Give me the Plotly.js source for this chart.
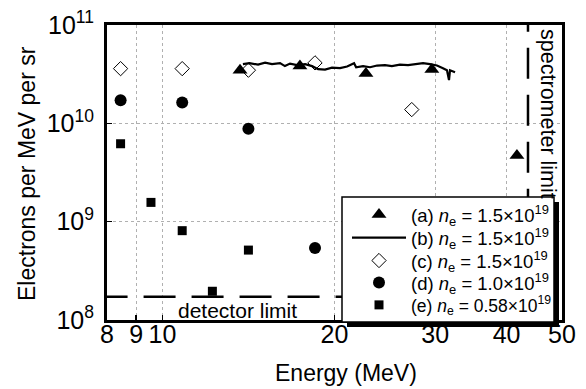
<!DOCTYPE html>
<html>
<head>
<meta charset="utf-8">
<script src="https://cdn.plot.ly/plotly-3.0.1.min.js"></script>
<style>html,body{margin:0;padding:0;background:#fff;}#chart{width:586px;height:389px;}</style>
</head>
<body>
<div id="chart"></div>
<script>
// ---- data ----
const energyA = [13.67, 17.4, 22.7, 29.6, 41.7];
const valuesA = [3.47e10, 3.82e10, 3.21e10, 3.53e10, 4.71e9];

const energyB = [13.83, 14.2, 14.7, 15.12, 15.55, 16.06, 16.38, 16.72, 17.2, 17.77, 18.27, 18.72, 19.25, 19.8, 20.45, 21.04, 21.64, 21.82, 22.44, 23.08, 23.74, 24.51, 25.2, 26.03, 26.9, 27.66, 28.57, 29.38, 30.22, 30.96, 31.46, 31.72, 31.85, 32.5];
const valuesB = [4.0e10, 4.09e10, 3.95e10, 4.14e10, 4.0e10, 4.09e10, 3.82e10, 4.05e10, 3.91e10, 4.0e10, 3.82e10, 3.56e10, 3.52e10, 3.68e10, 3.64e10, 3.78e10, 4.09e10, 3.72e10, 3.82e10, 3.72e10, 3.87e10, 3.91e10, 3.82e10, 3.95e10, 3.91e10, 4.0e10, 4.09e10, 4.0e10, 3.87e10, 3.64e10, 3.47e10, 2.75e10, 3.47e10, 3.31e10];

const energyC = [8.45, 10.83, 14.14, 18.49, 27.3];
const valuesC = [3.6e10, 3.6e10, 3.47e10, 4.12e10, 1.38e10];

const energyD = [8.45, 10.83, 14.14, 18.49];
const valuesD = [1.72e10, 1.63e10, 8.8e9, 5.4e8];

const energyE = [8.45, 9.55, 10.83, 12.23, 14.14];
const valuesE = [6.2e9, 1.57e9, 8.1e8, 1.96e8, 5.14e8];

const seriesNames = [
  '(a) <i>n</i><sub>e</sub> = 1.5\u00d710<sup>19</sup>',
  '(b) <i>n</i><sub>e</sub> = 1.5\u00d710<sup>19</sup>',
  '(c) <i>n</i><sub>e</sub> = 1.5\u00d710<sup>19</sup>',
  '(d) <i>n</i><sub>e</sub> = 1.0\u00d710<sup>19</sup>',
  '(e) <i>n</i><sub>e</sub> = 0.58\u00d710<sup>19</sup>'
];

const detectorLimit = 1.72e8;      // electrons per MeV per sr
const spectrometerLimit = 43.6;    // MeV

const xTickVals = [8, 9, 10, 20, 30, 40, 50];
const xTickText = ['8', '9', '10', '20', '30', '40', '50'];
const yTickVals = [1e8, 1e9, 1e10, 1e11];
const yTickText = ['10<sup>8</sup>', '10<sup>9</sup>', '10<sup>10</sup>', '10<sup>11</sup>'];

// ---- plot ----
const FONT = 'Liberation Sans, Arial, Helvetica, sans-serif';
const W = 586, H = 389;
const PL = 107, PR = 562, PT = 25, PB = 320;           // plot area in pixels
const px2paperX = p => (p - PL) / (PR - PL);
const px2paperY = p => (PB - p) / (PB - PT);

const traces = [
  {x: energyA, y: valuesA, name: seriesNames[0], mode: 'markers', type: 'scatter', legend: 'legend',
   marker: {symbol: 'triangle-up', size: 13, color: '#000'}},
  {x: energyB, y: valuesB, name: seriesNames[1], mode: 'lines', type: 'scatter', legend: 'legend2',
   line: {color: '#000', width: 2.2}},
  {x: energyC, y: valuesC, name: seriesNames[2], mode: 'markers', type: 'scatter', legend: 'legend3',
   marker: {symbol: 'diamond-open', size: 11, color: '#000', line: {width: 1}}},
  {x: energyD, y: valuesD, name: seriesNames[3], mode: 'markers', type: 'scatter', legend: 'legend4',
   marker: {symbol: 'circle', size: 12, color: '#000'}},
  {x: energyE, y: valuesE, name: seriesNames[4], mode: 'markers', type: 'scatter', legend: 'legend5',
   marker: {symbol: 'square', size: 9, color: '#000'}}
];

const axisCommon = {
  type: 'log', showline: true, linecolor: '#000', linewidth: 3, mirror: true,
  ticks: 'inside', ticklen: 5, tickwidth: 1.5, tickcolor: '#000',
  showgrid: true, gridcolor: '#b0b0b0', gridwidth: 1, griddash: 'dot',
  zeroline: false, tickfont: {family: FONT, size: 25, color: '#000'}
};

const rowY = [215, 238, 261, 283, 305];
function legendAt(py, fs) {
  return {
    x: px2paperX(347), y: px2paperY(py), xanchor: 'left', yanchor: 'middle',
    bgcolor: 'rgba(0,0,0,0)', borderwidth: 0,
    font: {family: FONT, size: fs, color: '#000'},
    itemwidth: 54, tracegroupgap: 0
  };
}

const layout = {
  width: W, height: H,
  margin: {l: PL, r: W - PR, t: PT, b: H - PB},
  paper_bgcolor: '#fff', plot_bgcolor: '#fff',
  font: {family: FONT, color: '#000'},
  showlegend: true,
  xaxis: Object.assign({}, axisCommon, {
    range: [Math.log10(8), Math.log10(50)],
    tickmode: 'array', tickvals: xTickVals, ticktext: xTickText,
    ticklabelstandoff: -10
  }),
  yaxis: Object.assign({}, axisCommon, {
    range: [8, 11],
    tickmode: 'array', tickvals: yTickVals, ticktext: yTickText,
    ticklabelstandoff: 5
  }),
  legend: legendAt(rowY[0], 18.5),
  legend2: legendAt(rowY[1], 18.5),
  legend3: legendAt(rowY[2], 18.5),
  legend4: legendAt(rowY[3], 18.5),
  legend5: legendAt(rowY[4], 17.5),
  shapes: [
    // detector limit (horizontal dashed)
    {type: 'line', xref: 'x', yref: 'y', x0: 7.64, x1: 30, y0: detectorLimit, y1: detectorLimit,
     line: {color: '#000', width: 2.5, dash: '32px,16px'}, layer: 'above'},
    // spectrometer limit (vertical dashed)
    {type: 'line', xref: 'x', yref: 'y', x0: spectrometerLimit, x1: spectrometerLimit, y0: 1.76e11, y1: 1e8,
     line: {color: '#000', width: 2.5, dash: '31px,16px'}, layer: 'above'},
    // legend shadow
    {type: 'rect', xref: 'paper', yref: 'paper',
     x0: px2paperX(347), x1: px2paperX(559), y0: px2paperY(327), y1: px2paperY(202),
     fillcolor: '#000', line: {width: 0}, layer: 'above'},
    // legend box
    {type: 'rect', xref: 'paper', yref: 'paper',
     x0: px2paperX(342), x1: px2paperX(554), y0: px2paperY(322), y1: px2paperY(197),
     fillcolor: '#fff', line: {color: '#000', width: 1.5}, layer: 'above'}
  ],
  annotations: [
    {text: 'detector limit', xref: 'x', yref: 'y', x: Math.log10(13.54), y: Math.log10(1.24e8),
     xanchor: 'center', yanchor: 'middle',
     showarrow: false, font: {family: FONT, size: 21, color: '#000'}},
    {text: 'spectrometer limit', xref: 'x', yref: 'y', x: Math.log10(46.7), y: Math.log10(1.24e10),
     xanchor: 'center', yanchor: 'middle', xshift: 3,
     textangle: 90, showarrow: false, font: {family: FONT, size: 21.5, color: '#000'}},
    {text: 'Energy (MeV)', xref: 'paper', yref: 'paper', x: px2paperX(346), y: px2paperY(373),
     xanchor: 'center', yanchor: 'middle',
     showarrow: false, font: {family: FONT, size: 23, color: '#000'}},
    {text: 'Electrons per MeV per sr', xref: 'paper', yref: 'paper', x: px2paperX(27), y: px2paperY(174),
     xanchor: 'center', yanchor: 'middle', textangle: -90,
     showarrow: false, font: {family: FONT, size: 23, color: '#000'}}
  ]
};

Plotly.newPlot('chart', traces, layout, {displayModeBar: false, staticPlot: true});
</script>
</body>
</html>
